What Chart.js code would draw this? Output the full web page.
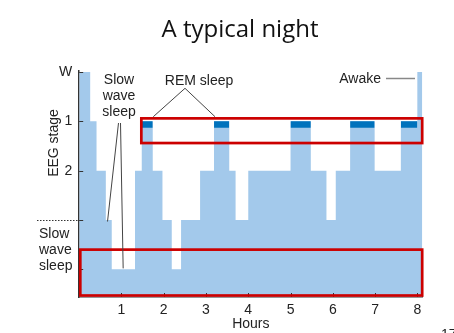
<!DOCTYPE html>
<html><head><meta charset="utf-8">
<script src="https://cdn.jsdelivr.net/npm/chart.js@4/dist/chart.umd.min.js"></script>
<style>html,body{margin:0;padding:0;background:#fff}</style>
</head><body>
<canvas id="c" width="454" height="333"></canvas>
<script>
// ---- data ----
const stageTicks = [0, 1, 2, 3, 4];
const stageLabels = ['W', '1', '2', '', ''];
const hourTicks = [1, 2, 3, 4, 5, 6, 7, 8];
const hourLabels = ['1', '2', '3', '4', '5', '6', '7', '8'];
const segStarts = [0, 0.26, 0.41, 0.63, 0.77, 1.32, 1.48, 1.74, 1.97, 2.19, 2.41, 2.86, 3.19, 3.55, 3.70, 4.00, 5.00, 5.48, 5.85, 6.07, 6.41, 6.99, 7.61, 8.00];
const stages    = [0, 1,    2,    3,    4,    2,    1,    2,    3,    4,    3,    2,    1,    2,    3,    2,    1,    2,    3,    2,    1,    2,    1,    0];
const nightEnd = 8.12;
const remStarts = [1.48, 3.19, 5.00, 6.41, 7.61];
const remEnds   = [1.74, 3.55, 5.48, 6.99, 8.00];
const remBand = 0.13;

// ---- build datasets ----
const hypno = [];
segStarts.forEach((s, i) => {
  const e = i + 1 < segStarts.length ? segStarts[i + 1] : nightEnd;
  hypno.push({x: s, y: stages[i]}, {x: e, y: stages[i]});
});
const LIGHT = 'rgb(163,201,235)', DARK = 'rgb(0,114,188)';
const datasets = [{
  data: hypno, order: 1, borderWidth: 0, pointRadius: 0,
  backgroundColor: LIGHT, borderColor: LIGHT, fill: 'start', tension: 0
}];
remStarts.forEach((s, i) => {
  datasets.push({
    data: [{x: s, y: 1}, {x: remEnds[i], y: 1}], order: 0, borderWidth: 0, pointRadius: 0,
    backgroundColor: DARK, borderColor: DARK, fill: {value: 1 + remBand}
  });
});

const FONT = '"Liberation Sans", Arial, Helvetica, sans-serif';
const TXT = '#222';

const decor = {
  id: 'decor',
  afterDraw(chart) {
    const {ctx, chartArea: ca, scales: {x: xs, y: ys}} = chart;
    const X = h => xs.getPixelForValue(h), Y = s => ys.getPixelForValue(s);
    const line = (x1, y1, x2, y2) => { ctx.beginPath(); ctx.moveTo(x1, y1); ctx.lineTo(x2, y2); ctx.stroke(); };
    ctx.save();
    // inward tick marks
    ctx.strokeStyle = '#333'; ctx.lineWidth = 1;
    stageTicks.forEach(v => { const y = Math.round(Y(v)) + 0.5; line(ca.left, y, ca.left + 4, y); });
    hourTicks.forEach(v => { const x = Math.round(X(v)) + 0.5; line(x, ca.bottom, x, ca.bottom - 4); });
    // dotted boundary for slow wave sleep
    ctx.setLineDash([1.5, 1.5]);
    line(37, Math.round(Y(3)) + 0.5, ca.left, Math.round(Y(3)) + 0.5);
    ctx.setLineDash([]);
    // red highlight boxes
    ctx.strokeStyle = '#cc0000'; ctx.lineWidth = 2.7;
    [[1.47, 0.94, 8.115, 1.44], [0.026, 3.6, 8.115, 4.53]].forEach(b => {
      ctx.strokeRect(X(b[0]), Y(b[1]), X(b[2]) - X(b[0]), Y(b[3]) - Y(b[1]));
    });
    // pointer lines
    ctx.strokeStyle = '#444'; ctx.lineWidth = 1;
    line(118.5, 123, X(0.67), Y(3.03));
    line(120.5, 123, X(1.04), Y(3.98));
    line(185, 88.3, 153.3, 116.7);
    line(185, 88.3, 215, 116.7);
    ctx.strokeStyle = '#888'; ctx.lineWidth = 1.5;
    line(386, 78.5, 415, 78.5);
    // texts
    ctx.fillStyle = TXT; ctx.font = '14px ' + FONT; ctx.textBaseline = 'alphabetic';
    ctx.textAlign = 'center';
    ctx.fillText('Slow', 119, 84); ctx.fillText('wave', 119, 100); ctx.fillText('sleep', 119, 116);
    ctx.fillText('REM sleep', 199, 85);
    ctx.textAlign = 'right';
    ctx.fillText('Awake', 381, 83);
    ctx.textAlign = 'left';
    ctx.fillText('Slow', 39, 238); ctx.fillText('wave', 39, 254); ctx.fillText('sleep', 39, 270);
    ctx.fillText('17', 441, 339);
    ctx.save();
    ctx.translate(54, 143); ctx.rotate(-Math.PI / 2);
    ctx.textAlign = 'center'; ctx.textBaseline = 'middle';
    ctx.fillText('EEG stage', 0, 0);
    ctx.restore();
    ctx.restore();
  }
};

new Chart(document.getElementById('c'), {
  type: 'line',
  data: {datasets},
  plugins: [decor],
  options: {
    responsive: false, animation: false, devicePixelRatio: 1,
    layout: {padding: {left: 26, right: 0, top: 0, bottom: 0}},
    plugins: {
      legend: {display: false}, tooltip: {enabled: false},
      title: {display: true, text: 'A typical night', color: '#111',
        font: {family: '"Open Sans", sans-serif', size: 24, weight: 'normal'},
        padding: {top: 16, bottom: 26.2}}
    },
    scales: {
      x: {
        type: 'linear', min: 0, max: nightEnd, z: 1,
        grid: {display: false, drawTicks: false},
        border: {display: true, color: '#333', width: 1.5},
        afterBuildTicks: s => { s.ticks = hourTicks.map(v => ({value: v})); },
        afterFit: s => { s.height = 36; },
        ticks: {padding: 5, color: TXT, font: {family: FONT, size: 14},
          callback: v => hourLabels[hourTicks.indexOf(v)] ?? ''},
        title: {display: true, text: 'Hours', color: TXT, font: {family: FONT, size: 14}, padding: {top: 0, bottom: 0}}
      },
      y: {
        type: 'linear', reverse: true, min: -0.02, max: 4.56, z: 1,
        grid: {display: false, drawTicks: false},
        border: {display: true, color: '#333', width: 1.5},
        afterBuildTicks: s => { s.ticks = stageTicks.map(v => ({value: v})); },
        afterFit: s => { s.width = 53.2; },
        ticks: {padding: 7, color: TXT, font: {family: FONT, size: 14},
          callback: v => stageLabels[stageTicks.indexOf(v)] ?? ''}
      },
      yRight: {
        type: 'linear', position: 'right', display: true,
        grid: {display: false, drawTicks: false},
        border: {display: false},
        ticks: {display: false},
        afterFit: s => { s.width = 31.6; }
      }
    }
  }
});
</script>
</body></html>
